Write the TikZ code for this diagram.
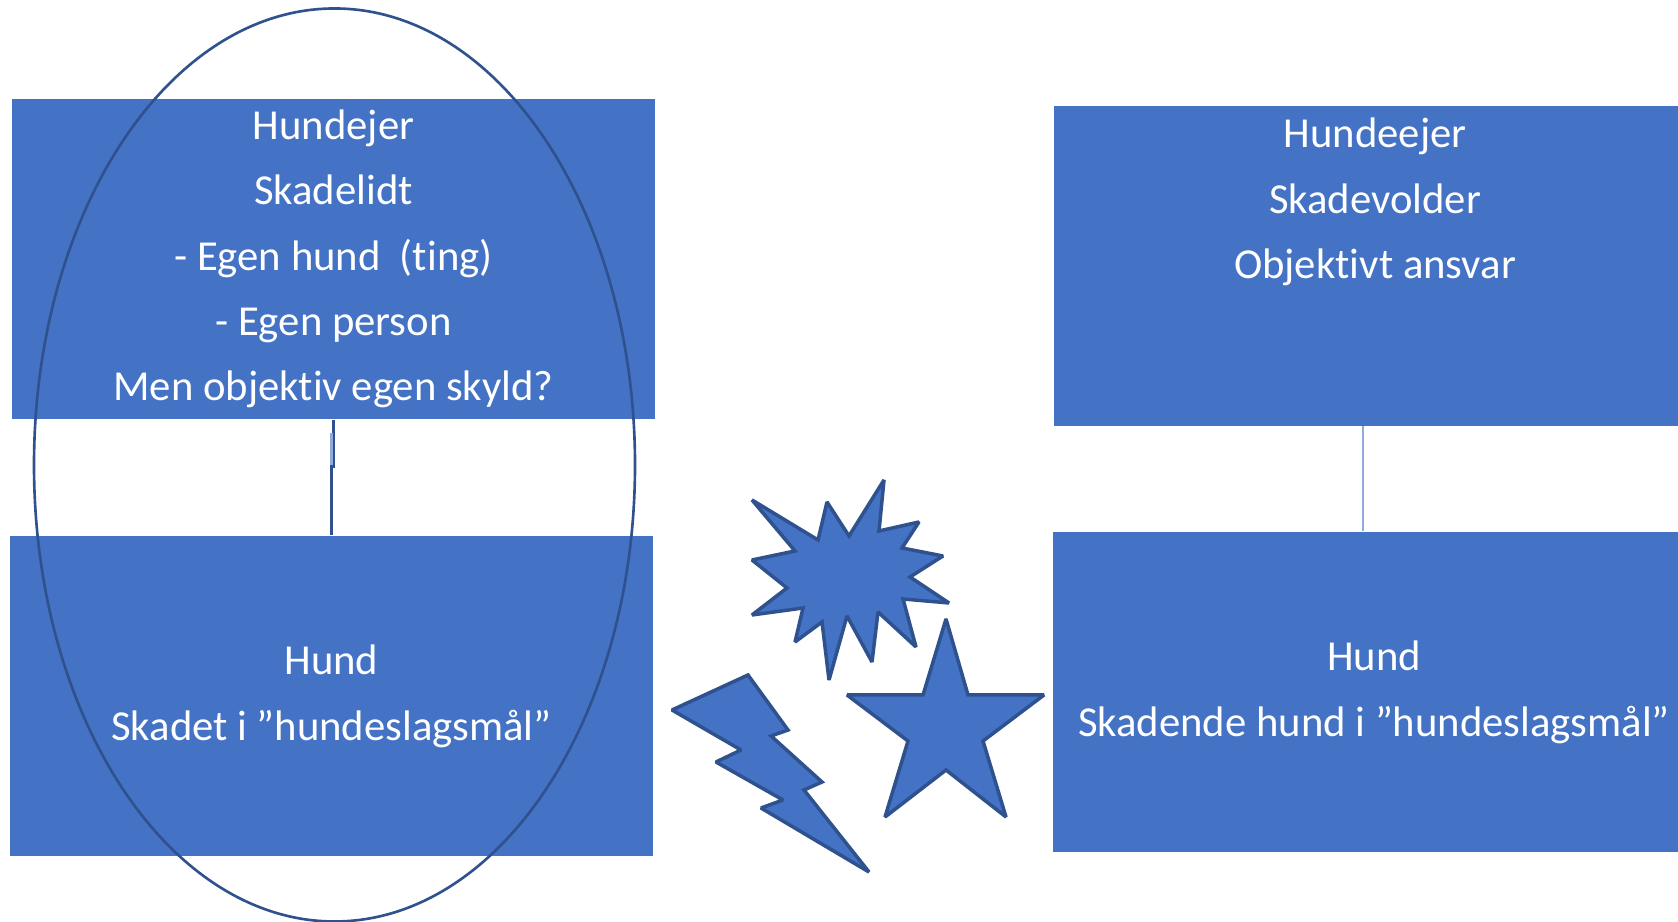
\documentclass[tikz,border=0pt]{standalone}
\usepackage{fontspec}
\setmainfont[Ligatures=NoCommon]{Carlito}
\usepackage{xcolor}
\usetikzlibrary{positioning,shapes.geometric}
\definecolor{boxblue}{HTML}{4472C4}
\definecolor{edgeblue}{HTML}{2F528F}
\definecolor{linkblue}{HTML}{8FAADC}
\tikzset{every picture/.style={line width=0.75pt}}
\tikzset{
	sagbox/.style={fill=boxblue,text=white,align=center,minimum width=6.43cm,minimum height=3.2cm,inner sep=0pt,font=\fontsize{12.15}{18.6}\selectfont},
	spikes/.style={fill=boxblue,draw=edgeblue,line width=1pt,line join=miter,miter limit=2}
}
\begin{document}
\begin{tikzpicture}
\useasboundingbox (0,0) rectangle (16.78,9.22);
\node[sagbox] (ejer) at (3.335,6.63) {Hundejer\\Skadelidt\\- Egen hund\ \ (ting)\\- Egen person\\Men objektiv egen skyld?};
\node[sagbox] (hund) at (3.315,2.255) {Hund\\Skadet i ”hundeslagsmål”};
\node[sagbox] (eejer) at (13.75,6.56) {Hundeejer\\Skadevolder\\Objektivt ansvar\\ \\[1.2pt] };
\node[sagbox] (hund2) at (13.74,2.295) {Hund\\Skadende hund i ”hundeslagsmål”};
%
\coordinate (ejerend) at (3.335,4.54);
\coordinate (hundknaek) at (3.315,4.57);
\coordinate (hundend) at (3.315,4.89);
\coordinate (eejerlink) at (13.63,4.96);
%
\draw[edgeblue,line width=1pt] (ejer.south) to (ejerend);
\draw[edgeblue,line width=1pt] (hund.north) to (hundknaek);
\draw[linkblue,line width=1pt] (hundknaek) to (hundend);
\draw[linkblue] (eejerlink) to (eejerlink |- hund2.north);
%
\node[ellipse,draw=edgeblue,minimum width=6.01cm,minimum height=9.13cm,inner sep=0pt] (kreds) at (3.345,4.57) {};
%
\draw[spikes] (8.84,4.42) -- (8.79,3.91) -- (9.19,4.00) -- (9.02,3.74) -- (9.43,3.66) -- (9.10,3.45) -- (9.49,3.19) -- (9.03,3.23) -- (9.16,2.75) -- (8.78,3.10) -- (8.72,2.60) -- (8.47,3.06) -- (8.29,2.42) -- (8.22,3.00) -- (7.95,2.80) -- (8.03,3.14) -- (7.52,3.07) -- (7.87,3.34) -- (7.52,3.62) -- (7.95,3.71) -- (7.52,4.22) -- (8.18,3.82) -- (8.27,4.20) -- (8.49,3.86) -- cycle;
%
\draw[spikes] (7.48,2.47) -- (7.88,1.92) -- (7.71,1.86) -- (8.22,1.40) -- (8.04,1.32) -- (8.69,0.50) -- (7.61,1.14) -- (7.83,1.22) -- (7.16,1.60) -- (7.41,1.72) -- (6.72,2.12) -- cycle;
%
\draw[spikes] (9.46,3.03) -- (9.68,2.27) -- (10.44,2.27) -- (9.83,1.81) -- (10.06,1.05) -- (9.46,1.52) -- (8.85,1.05) -- (9.08,1.81) -- (8.47,2.27) -- (9.23,2.27) -- cycle;
\end{tikzpicture}
\end{document}
